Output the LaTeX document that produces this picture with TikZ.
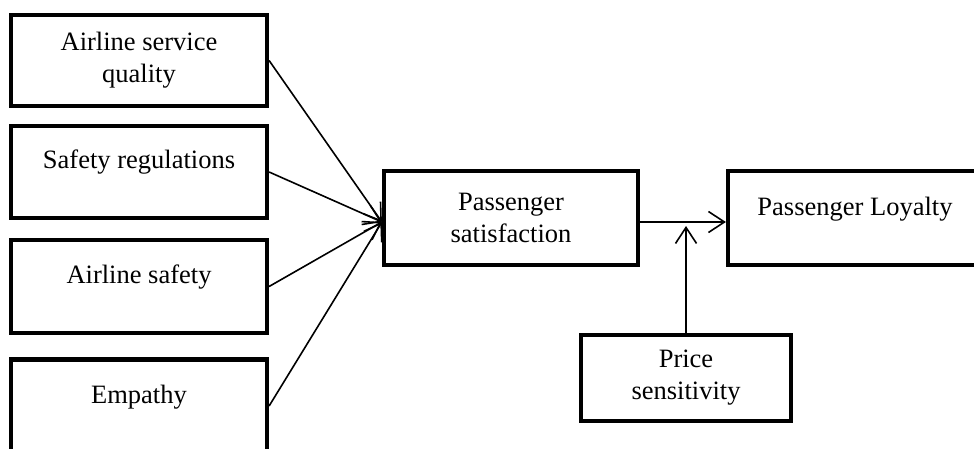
\documentclass[tikz,border=0pt]{standalone}
\usepackage{fontspec}
\setmainfont{Liberation Serif}
\usetikzlibrary{arrows.meta}
\tikzset{
  box/.style={draw,line width=4.2pt,minimum width=256pt,align=center,font=\fontsize{26.5}{32}\selectfont},
  raised/.style={text height=18pt,text depth=24pt},
  link/.style={line width=1.6pt,-{Straight Barb[length=16pt,width=21pt]}}
}

\begin{document}
\begin{tikzpicture}[x=1pt,y=-1pt]
                \useasboundingbox (0,0) rectangle (974,449);
                \node[box,minimum height=91pt] (quality) at (139,60.5) {Airline service\\quality};
                \node[box,raised,minimum height=92pt] (rules) at (139,172) {Safety regulations};
                \node[box,raised,minimum height=93pt] (safety) at (139,286.5) {Airline safety};
                \node[box,raised,minimum height=93pt] (empathy) at (139,406) {Empathy};

                \node[box,minimum width=254pt,minimum height=94pt] (satis) at (511,218) {Passenger\\satisfaction};
                \node[box,raised,minimum width=254pt,minimum height=94pt] (loyal) at (855,218) {Passenger Loyalty};
                \node[box,minimum width=210pt,minimum height=86pt] (price) at (686,378) {Price\\sensitivity};
                \coordinate (mod) at (688,226);

                \foreach \src in {quality,rules,safety,empathy} {
                    \draw[link] (\src.east) -- ([yshift=-4pt]satis.west);
                }
                \draw[link] ([yshift=-4pt]satis.east) -- ([yshift=-4pt]loyal.west);
                \draw[link] (price.north) -- (price.north |- mod);
            \end{tikzpicture}
\end{document}
